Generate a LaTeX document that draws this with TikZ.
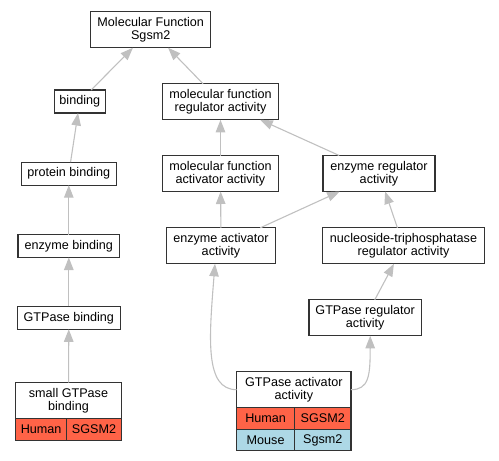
\documentclass[tikz,border=0pt]{standalone}
\usepackage{fontspec}
\setmainfont{Liberation Sans}
\usetikzlibrary{arrows.meta}
\usetikzlibrary{positioning}
\definecolor{human}{HTML}{FF6347}
\definecolor{mouse}{HTML}{ADD8E6}
\definecolor{isagrey}{HTML}{C0C0C0}
\tikzset{>={Triangle[length=12.5pt,width=9.5pt]}, font=\fontsize{12.6}{13.4}\selectfont}
\tikzstyle{term} = [draw=black!80, line width=1.3pt, fill=white, rectangle, align=center, inner sep=2pt, outer sep=0pt, minimum height=36pt]
\tikzstyle{small} = [term, minimum height=23pt]
\tikzstyle{cell} = [term, minimum height=21.5pt]
\tikzstyle{isa} = [draw=isagrey, line width=1.1pt, ->]

\begin{document}
\begin{tikzpicture}[x=1pt, y=-1pt]
    \useasboundingbox (0,0) rectangle (499,461);
    % left branch
    \node [term, minimum width=120pt] (mf) at (150.7,29.8) {Molecular Function\\Sgsm2};
    \node [small, minimum width=51pt] (bind) at (79.8,101.5) {binding};
    \node [small, minimum width=95pt] (prot) at (68.8,173.7) {protein binding};
    \node [small, minimum width=101.7pt] (enzb) at (68.8,246) {enzyme binding};
    \node [small, minimum width=103.3pt] (gtpb) at (68.8,317.8) {GTPase binding};
    \node [term, minimum width=105.6pt] (sgb) at (68.5,400.7) {small GTPase\\binding};
    \node [cell, fill=human, minimum width=51pt, anchor=north west] (sgb_h) at (sgb.south west) {Human};
    \node [cell, fill=human, minimum width=54.6pt, right=0pt of sgb_h] (sgb_hs) {SGSM2};
    % right branch
    \node [term, minimum width=116.4pt] (mfra) at (220.5,101.8) {molecular function\\regulator activity};
    \node [term, minimum width=116.4pt] (mfaa) at (220.5,173.5) {molecular function\\activator activity};
    \node [term, minimum width=112pt] (era) at (379,173.5) {enzyme regulator\\activity};
    \node [term, minimum width=108.6pt] (eaa) at (221,245.8) {enzyme activator\\activity};
    \node [term, minimum width=162.4pt] (ntra) at (403.5,245.8) {nucleoside-triphosphatase\\regulator activity};
    \node [term, minimum width=112.3pt] (gtpr) at (365.2,317.8) {GTPase regulator\\activity};
    \node [term, minimum width=114.3pt] (gaa) at (293.8,389.7) {GTPase activator\\activity};
    \node [cell, fill=human, minimum width=58pt, anchor=north west] (gaa_h) at (gaa.south west) {Human};
    \node [cell, fill=human, minimum width=56.3pt, right=0pt of gaa_h] (gaa_hs) {SGSM2};
    \node [cell, fill=mouse, minimum width=58pt, below=0pt of gaa_h] (gaa_m) {Mouse};
    \node [cell, fill=mouse, minimum width=56.3pt, below=0pt of gaa_hs] (gaa_ms) {Sgsm2};

    \draw [isa] (bind) -- (mf);
    \draw [isa] (mfra) -- (mf);
    \draw [isa] (prot) -- (bind);
    \draw [isa] (enzb) -- (prot);
    \draw [isa] (gtpb) -- (enzb);
    \draw [isa] (sgb) -- (gtpb);
    \draw [isa] (mfaa) -- (mfra);
    \draw [isa] (era) -- (mfra);
    \draw [isa] (eaa) -- (mfaa);
    \draw [isa] (eaa) -- (era);
    \draw [isa] (ntra) -- (era);
    \draw [isa] (gtpr) -- (ntra);
    \draw [isa] (gaa.west) .. controls +(-32,0) and +(-6,75) .. ([xshift=-6pt]eaa.south);
    \draw [isa] (gaa.east) .. controls +(18,0) and +(0,40) .. ([xshift=5pt]gtpr.south);
\end{tikzpicture}
\end{document}
